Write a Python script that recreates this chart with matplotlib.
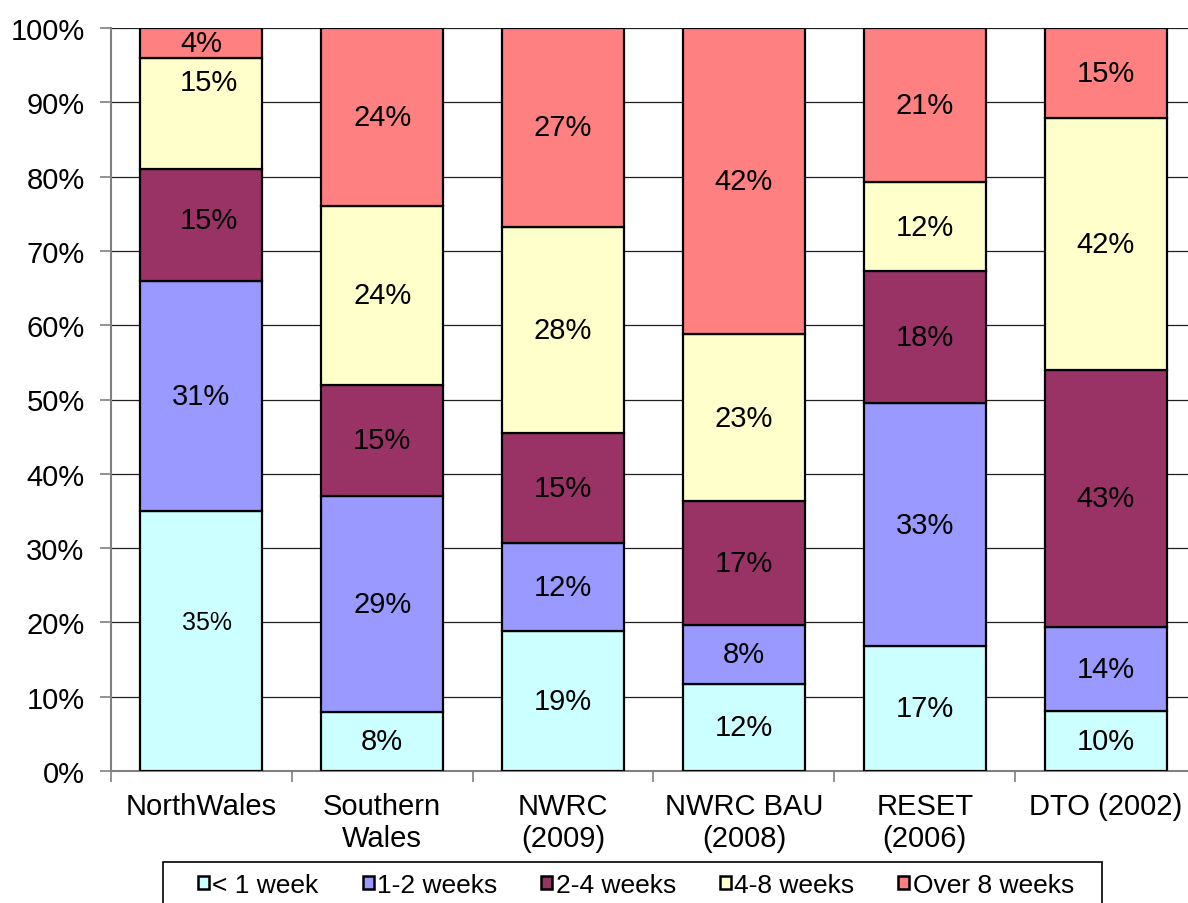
import matplotlib
matplotlib.use("Agg")
import matplotlib.pyplot as plt
from matplotlib.patches import Patch, Rectangle
import numpy as np

plt.rcParams["font.family"] = ["Liberation Sans", "DejaVu Sans"]

categories = ["NorthWales", "Southern\nWales", "NWRC\n(2009)", "NWRC BAU\n(2008)", "RESET\n(2006)", "DTO (2002)"]
series_names = ["< 1 week", "1-2 weeks", "2-4 weeks", "4-8 weeks", "Over 8 weeks"]
lt_1_week = [35, 8, 19, 12, 17, 10]
w1_2 = [31, 29, 12, 8, 33, 14]
w2_4 = [15, 15, 15, 17, 18, 43]
w4_8 = [15, 24, 28, 23, 12, 42]
over_8 = [4, 24, 27, 42, 21, 15]
colors = ["#CCFFFF", "#9999FF", "#993366", "#FFFFCC", "#FF8080"]

# hand-moved labels in the original (category, series) -> (dx, dy) in pixels
label_nudge = {(0, 3): (7, 31), (0, 2): (7, 5), (0, 0): (6, 19)}
label_size = {(0, 0): 18}
fs = 21

raw = np.array([lt_1_week, w1_2, w2_4, w4_8, over_8], dtype=float)
pct = raw / raw.sum(axis=0) * 100

W, H = 1188, 904
fig = plt.figure(figsize=(W / 100, H / 100), dpi=100)
ax = fig.add_axes([111 / W, 132 / H, 1085 / W, 743 / H])

x = np.arange(len(categories))
bottom = np.zeros(len(categories))
for i, name in enumerate(series_names):
    ax.bar(x, pct[i], 0.674, bottom=bottom, color=colors[i], edgecolor="black",
           linewidth=1.6, zorder=3)
    for j in range(len(categories)):
        dx, dy = label_nudge.get((j, i), (0, 0))
        ax.annotate(f"{raw[i, j]:.0f}%", (x[j], bottom[j] + pct[i, j] / 2),
                    xytext=(dx * 0.72, dy * 0.72), textcoords="offset points",
                    ha="center", va="center", fontsize=label_size.get((j, i), fs),
                    zorder=4)
    bottom += pct[i]

ax.set_xlim(-0.5, len(categories) - 0.5)
ax.set_ylim(0, 100)
ax.set_yticks(np.arange(0, 101, 10))
ax.set_yticklabels([f"{v}%" for v in range(0, 101, 10)], fontsize=fs)
ax.yaxis.grid(True, color="#202020", linewidth=0.9, zorder=0)
ax.set_axisbelow(True)

ax.set_xticks(x)
ax.set_xticklabels(categories, fontsize=fs, linespacing=1.2)
ax.set_xticks(np.arange(-0.5, len(categories)), minor=True)
ax.tick_params(axis="x", which="major", length=0, pad=15)
ax.tick_params(axis="x", which="minor", length=8, color="#808080", width=1.2)
ax.tick_params(axis="y", length=8, color="#808080", width=1.2, pad=11)

for side in ["top", "right"]:
    ax.spines[side].set_visible(False)
for side in ["left", "bottom"]:
    ax.spines[side].set_color("#808080")
    ax.spines[side].set_linewidth(1.5)

handles = [Patch(facecolor=c, edgecolor="black", linewidth=1.8) for c in colors]
leg = fig.legend(handles, series_names, loc="center", bbox_to_anchor=(636 / W, 1 - 886 / H),
                 ncol=5, fontsize=19, frameon=False,
                 handlelength=0.42, handleheight=0.42, handletextpad=0.12, columnspacing=1.67,
                 borderpad=0, borderaxespad=0)
fig.patches.append(Rectangle((163 / W, -0.01), (1102 - 163) / W, 0.01 + (904 - 863) / H,
                             transform=fig.transFigure, fill=False, edgecolor="black",
                             linewidth=1.2))

fig.savefig("out.png", dpi=100)
